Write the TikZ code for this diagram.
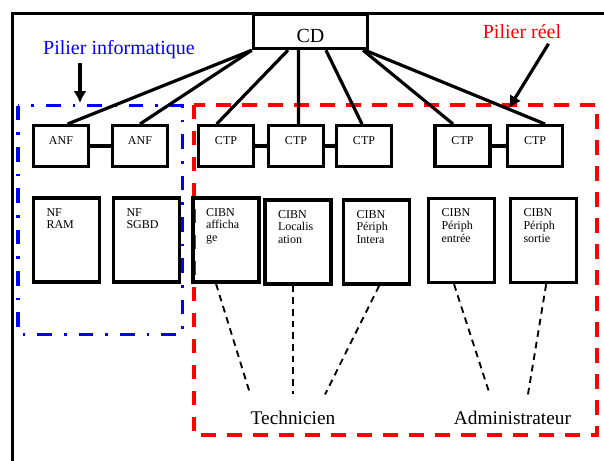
\documentclass[tikz,border=0pt]{standalone}
\usepackage{fontspec}
\setmainfont{Liberation Serif}
\usetikzlibrary{arrows.meta}

\begin{document}
\begin{tikzpicture}[x=0.75pt,y=-0.75pt,
    unit node/.style={draw,line width=2.6pt,minimum width=41pt,minimum height=30.4pt,
      inner sep=0pt,text height=6pt,text depth=9pt,font=\fontsize{9}{10}\selectfont},
    cibn node/.style={draw,line width=2.6pt,inner xsep=9.75pt,inner ysep=7.7pt,
      font=\fontsize{9}{9.5}\selectfont,
      execute at begin node={\begin{minipage}[c][47.6pt][t]{30pt}\raggedright},
      execute at end node={\end{minipage}}},
    pilier/.style={font=\fontsize{15}{18}\selectfont},
    role/.style={font=\fontsize{14.5}{17}\selectfont},
    link/.style={line width=2.4pt},
    duty/.style={line width=1.4pt,dash pattern=on 5pt off 3.75pt},
    pointer/.style={line width=2.4pt,-{Latex[length=9pt,width=10pt]}}]

    \useasboundingbox (0,0) rectangle (604,461);

    % cadre
    \draw[line width=2.25pt] (12.5,461) -- (12.5,13.3) -- (604,13.3);

    % piliers
    \draw[blue,line width=2.6pt,dash pattern=on 11pt off 9pt on 2pt off 9pt] (18,105.5) rectangle (182.5,334.3);
    \draw[red,line width=3pt,dash pattern=on 11pt off 8.5pt] (193.7,104.7) rectangle (597,435);

    \node[pilier,blue] (pinfo) at (119,49.5) {Pilier informatique};
    \node[pilier,red] (preel) at (522,32) {Pilier réel};
    \coordinate (infotip) at (80,103);
    \coordinate (reeltip) at (509,108);

    \node[draw,line width=2.6pt,minimum width=85.5pt,minimum height=25.5pt,inner sep=0pt,
      text height=16.8pt,text depth=0pt,font=\fontsize{15}{18}\selectfont] (cd) at (310.5,31.5) {CD};

    \node[unit node] (anf1) at (61,146) {ANF};
    \node[unit node] (anf2) at (140,146) {ANF};
    \node[unit node] (ctp1) at (226,146) {CTP};
    \node[unit node] (ctp2) at (296,146) {CTP};
    \node[unit node] (ctp3) at (364,146) {CTP};
    \node[unit node] (ctp4) at (462.5,146) {CTP};
    \node[unit node] (ctp5) at (535,146) {CTP};

    \node[cibn node] (nfram) at (66.5,240) {NF\\RAM};
    \node[cibn node] (nfsgbd) at (146.5,240) {NF\\SGBD};
    \node[cibn node] (cibnaff) at (226,240) {CIBN\\afficha\\ge};
    \node[cibn node] (cibnloc) at (298,242) {CIBN\\Localis\\ation};
    \node[cibn node] (cibnint) at (376.5,242) {CIBN\\Périph\\Intera};
    \node[cibn node] (cibnent) at (461.5,240.5) {CIBN\\Périph\\entrée};
    \node[cibn node] (cibnsor) at (543.5,240.5) {CIBN\\Périph\\sortie};

    \node[role] (tech) at (293,418) {Technicien};
    \node[role] (admin) at (512.5,418) {Administrateur};

    \draw[pointer] (pinfo.south -| infotip) -- (infotip);
    \draw[pointer] ([xshift=-13pt]preel.south east) -- (reeltip);

    \path[link]
    (cd.south west) edge ([xshift=5pt]anf1.north)
                    edge (anf2.north)
    ([xshift=-16.9pt]cd.south) edge ([xshift=-7pt]ctp1.north)
    ([xshift=-9pt]cd.south) edge ([xshift=1.9pt]ctp2.north)
    ([xshift=11.6pt]cd.south) edge ([xshift=-1.5pt]ctp3.north)
    ([xshift=39.4pt]cd.south) edge ([xshift=-7.1pt]ctp4.north)
    ([xshift=40.9pt]cd.south) edge ([xshift=7.5pt]ctp5.north);

    \draw[link] (anf1) -- (anf2);
    \draw[link] (ctp1) -- (ctp2);
    \draw[link] (ctp2) -- (ctp3);
    \draw[link] (ctp4) -- (ctp5);
    \foreach \p in {ctp1.east,ctp2.west,ctp3.west,ctp5.west}
      \fill (\p) circle (1.8pt);

    \path[duty]
    ([xshift=-7.5pt]cibnaff.south) edge ([xshift=-32pt,yshift=9pt]tech.north)
    ([xshift=-3.75pt]cibnloc.south) edge ([yshift=9pt]tech.north)
    ([xshift=2pt]cibnint.south) edge ([xshift=24pt,yshift=9pt]tech.north)
    ([xshift=-5.6pt]cibnent.south) edge ([xshift=-17pt,yshift=9pt]admin.north)
    ([xshift=2pt]cibnsor.south) edge ([xshift=11.6pt,yshift=9pt]admin.north);

\end{tikzpicture}
\end{document}
